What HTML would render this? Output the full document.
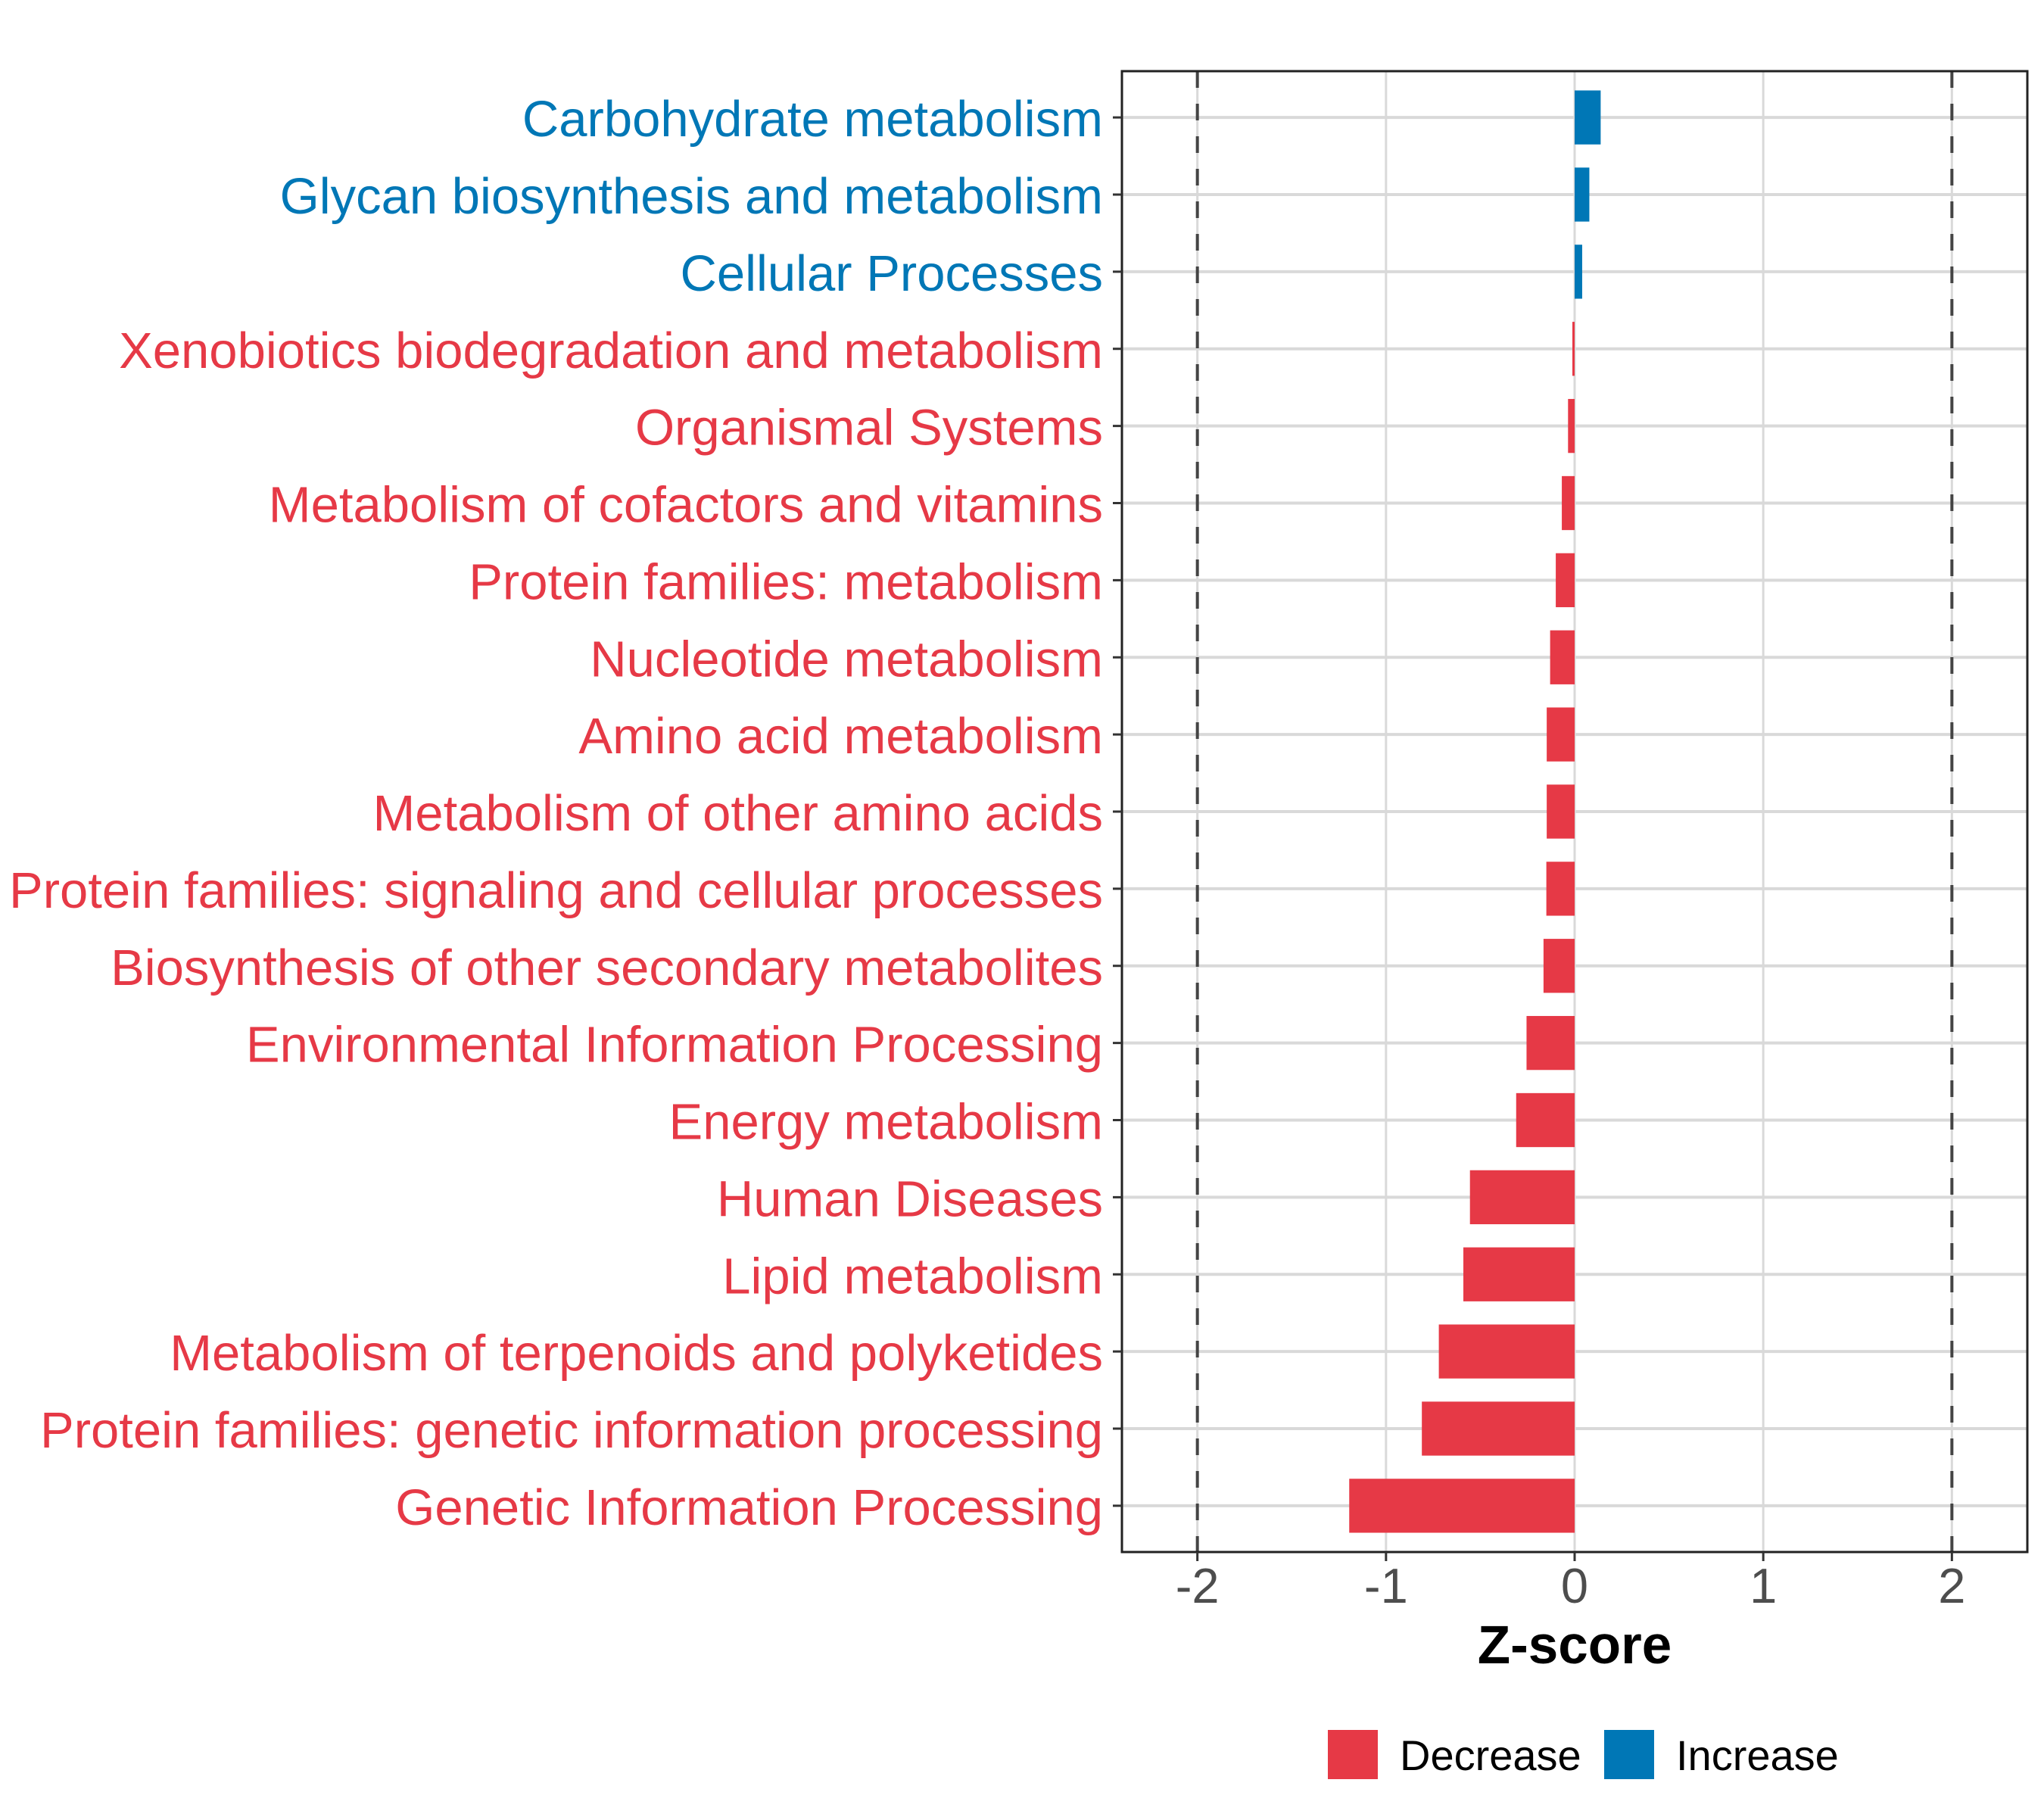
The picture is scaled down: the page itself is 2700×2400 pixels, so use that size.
<!DOCTYPE html>
<html><head><meta charset="utf-8"><style>
html,body{margin:0;padding:0;background:#fff}
svg{display:block}
text{font-family:"Liberation Sans",Arial,sans-serif}
</style></head><body>
<svg id="chart" width="2700" height="2400" viewBox="0 0 2700 2400" xmlns="http://www.w3.org/2000/svg">
<rect x="0" y="0" width="2700" height="2400" fill="#fff"/>
<g id="grid"></g>
<g id="bars"></g>
<g id="ref"></g>
<rect x="1482" y="94" width="1196" height="1956" fill="none" stroke="#222" stroke-width="3"/>
<g id="yaxis"></g>
<g id="xaxis"></g>
<text x="2080" y="2197" font-size="71" font-weight="bold" text-anchor="middle" fill="#000">Z-score</text>
<g>
<rect x="1754" y="2285" width="66" height="65" fill="#E63946"/>
<text x="1849" y="2338" font-size="56" fill="#000">Decrease</text>
<rect x="2119" y="2285" width="66" height="65" fill="#0077B6"/>
<text x="2214" y="2338" font-size="56" fill="#000">Increase</text>
</g>
</svg>
<script>
const categories = ["Carbohydrate metabolism","Glycan biosynthesis and metabolism","Cellular Processes","Xenobiotics biodegradation and metabolism","Organismal Systems","Metabolism of cofactors and vitamins","Protein families: metabolism","Nucleotide metabolism","Amino acid metabolism","Metabolism of other amino acids","Protein families: signaling and cellular processes","Biosynthesis of other secondary metabolites","Environmental Information Processing","Energy metabolism","Human Diseases","Lipid metabolism","Metabolism of terpenoids and polyketides","Protein families: genetic information processing","Genetic Information Processing"];
const zscores = [0.138,0.078,0.04,-0.012,-0.035,-0.068,-0.1,-0.13,-0.148,-0.148,-0.15,-0.165,-0.255,-0.31,-0.555,-0.59,-0.72,-0.81,-1.195];
const xTicks = [-2,-1,0,1,2];
const xTickLabels = ["-2","-1","0","1","2"];
const refLines = [-2,2];
const RED="#E63946", BLUE="#0077B6";
const NS="http://www.w3.org/2000/svg";
const px0=1482, px1=2678, py0=94, py1=2050, xmin=-2.4, xmax=2.4;
function xs(v){return px0+(v-xmin)/(xmax-xmin)*(px1-px0);}
const n=categories.length;
const step=(py1-py0)/(n-1+1.2);
function ys(i){return py0+step*0.6+i*step;}
function mk(tag,attrs,parent){const e=document.createElementNS(NS,tag);for(const k in attrs)e.setAttribute(k,attrs[k]);parent.appendChild(e);return e;}
const grid=document.getElementById('grid'),bars=document.getElementById('bars'),ref=document.getElementById('ref'),ya=document.getElementById('yaxis'),xa=document.getElementById('xaxis');
xTicks.forEach((t,i)=>{
  const l=mk('line',{x1:xs(t),x2:xs(t),y1:py0,y2:py1,stroke:'#d9d9d9','stroke-width':3},grid);
  
  
  const tk=mk('line',{x1:xs(t),x2:xs(t),y1:py1,y2:py1+12,stroke:'#333','stroke-width':3},xa);
  
  
  const tx=mk('text',{x:xs(t),y:2117,'font-size':65,'text-anchor':'middle',fill:'#4d4d4d'},xa);
  tx.textContent=xTickLabels[i];
  
  
});
categories.forEach((c,i)=>{
  const y=ys(i);
  const g=mk('line',{x1:px0,x2:px1,y1:y,y2:y,stroke:'#d9d9d9','stroke-width':4},grid);
  
  
  const v=zscores[i], col=v>=0?BLUE:RED;
  const h=step*0.7;
  const b=mk('rect',{x:Math.min(xs(0),xs(v)),y:y-h/2,width:Math.abs(xs(v)-xs(0)),height:h,fill:col},bars);
  
  
  const tk=mk('line',{x1:px0-12,x2:px0,y1:y,y2:y,stroke:'#333','stroke-width':3},ya);
  
  
  const t=mk('text',{x:1457,y:y+25,'font-size':67,'text-anchor':'end',fill:col},ya);
  t.textContent=c;
  
  
});
refLines.forEach(r=>{
  const l=mk('line',{x1:xs(r),x2:xs(r),y1:py0,y2:py1,stroke:'#444','stroke-width':4,'stroke-dasharray':'22 21'},ref);
  
  
});
</script>
</body></html>
